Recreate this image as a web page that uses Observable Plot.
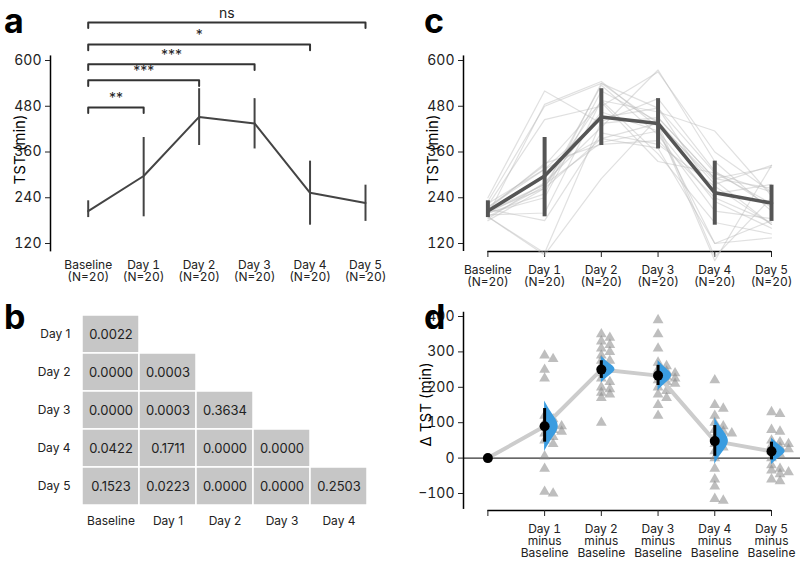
<!DOCTYPE html><html><head><meta charset="utf-8">
<script src="https://cdn.jsdelivr.net/npm/d3@7"></script>
<script src="https://cdn.jsdelivr.net/npm/@observablehq/plot@0.6"></script>
<style>
body{margin:0;background:#fff;font-family:Inter,"Noto Sans",sans-serif}
#c{position:relative;width:800px;height:573px;overflow:hidden}
#c svg{position:absolute;left:0;top:0;background:transparent!important}
.t{position:absolute;font-family:Inter,sans-serif;color:#000}
.L{font-weight:700;font-size:34px;line-height:1}
.ax{font-size:15px;transform:rotate(-90deg);transform-origin:center;white-space:nowrap}
</style></head><body><div id="c"></div>
<script>
const days = ["Baseline","Day 1","Day 2","Day 3","Day 4","Day 5"];
const meanTST = [205,297,452,435,253,226];
const loTST = [188,190,377,368,168,178];
const hiTST = [232,398,526,500,336,273];
const baseline = [195,210,185,230,200,215,190,205,220,180,200,210,195,240,205,190,215,200,225,190];
const d1 = [290,-30,95,250,75,110,-100,60,225,85,40,120,5,280,70,-95,100,50,90,80];
const d2 = [350,200,240,310,185,275,100,330,260,215,320,170,300,195,290,250,180,340,225,275];
const d3v = [230,170,390,245,215,120,260,200,350,190,240,180,270,210,150,310,220,235,250,225];
const d4 = [-120,60,150,20,-80,90,100,0,140,-60,75,30,220,50,-30,120,70,-115,80,40];
const d5 = [130,-40,20,45,-65,10,75,-20,35,0,125,-35,50,80,-60,25,-45,40,30,-30];
const deltaMean = [0,90,250,233,48,19];
const deltaLo = [0,45,225,205,5,-5];
const deltaHi = [0,140,275,262,92,45];
const brackets = [{to:1,y:477,lab:"**"},{to:2,y:548,lab:"***"},{to:3,y:590,lab:"***"},{to:4,y:642,lab:"*"},{to:5,y:700,lab:"ns"}];
const rowsB = ["Day 1","Day 2","Day 3","Day 4","Day 5"];
const colsB = ["Baseline","Day 1","Day 2","Day 3","Day 4"];
const pvals = [["0.0022"],["0.0000","0.0003"],["0.0000","0.0003","0.3634"],["0.0422","0.1711","0.0000","0.0000"],["0.1523","0.0223","0.0000","0.0000","0.2503"]];

const C = document.getElementById("c");
const W=800,H=573, font="Inter, sans-serif";
const base = {width:W,height:H,style:{fontFamily:font,fontSize:"13px",background:"transparent",color:"#222"}};
const idx = [0,1,2,3,4,5];
const deltas = [d1,d2,d3v,d4,d5];

// Panel a
const aX = {domain:[-0.68,5],range:[50,365]}, tY={domain:[120,600],range:[243,60]};
const br=[];brackets.forEach((b,i)=>{br.push({x:0,y:b.y-15,g:i},{x:0,y:b.y,g:i},{x:b.to,y:b.y,g:i},{x:b.to,y:b.y-15,g:i});});
C.append(Plot.plot({...base,marginLeft:50,marginBottom:H-250,x:aX,y:tY,marks:[
  Plot.ruleX([-0.68],{y1:98,y2:612,stroke:"#000",strokeWidth:1.5}),
  Plot.axisY({ticks:[120,240,360,480,600],tickSize:5,label:null,fontSize:14}),
  Plot.axisX({ticks:idx,tickFormat:i=>days[i]+"\n(N=20)",tickSize:0,tickPadding:10,label:null,fontSize:12}),
  Plot.ruleX(idx,{x:d=>d,y1:i=>loTST[i],y2:i=>hiTST[i],stroke:"#444",strokeWidth:2}),
  Plot.line(idx,{x:d=>d,y:i=>meanTST[i],stroke:"#444",strokeWidth:2}),
  Plot.line(br,{x:"x",y:"y",z:"g",stroke:"#333",strokeWidth:2}),
  Plot.text(brackets,{x:b=>b.to/2,y:"y",text:"lab",dy:-9,fontSize:14})
]}));

// Panel c
const cX={domain:[-0.43,5],range:[463,771]};
const indiv=[];baseline.forEach((b,s)=>{indiv.push({s,x:0,y:b});deltas.forEach((d,k)=>indiv.push({s,x:k+1,y:b+d[s]}));});
C.append(Plot.plot({...base,marginLeft:463,marginBottom:H-251,x:cX,y:tY,marks:[
  Plot.ruleX([-0.43],{y1:99,y2:612,stroke:"#000",strokeWidth:1.5}),
  Plot.ruleY([99],{x1:0,x2:5,stroke:"#000",strokeWidth:1.5}),
  Plot.axisY({ticks:[120,240,360,480,600],tickSize:5,label:null,fontSize:14}),
  Plot.axisX({ticks:idx,tickFormat:i=>days[i]+"\n(N=20)",tickSize:6,tickPadding:8,label:null,fontSize:12}),
  Plot.line(indiv,{x:"x",y:"y",z:"s",stroke:"#bbb",strokeOpacity:0.45,strokeWidth:1.2}),
  Plot.ruleX(idx,{x:d=>d,y1:i=>loTST[i],y2:i=>hiTST[i],stroke:"#555",strokeWidth:4}),
  Plot.line(idx,{x:d=>d,y:i=>meanTST[i],stroke:"#555",strokeWidth:3.5})
]}));

// Panel b
const cells=[];pvals.forEach((r,i)=>r.forEach((v,j)=>cells.push({r:rowsB[i],c:colsB[j],v})));
C.append(Plot.plot({...base,marginLeft:80,marginBottom:H-507,
  x:{type:"band",domain:colsB,range:[80,369],padding:0},y:{type:"band",domain:rowsB,range:[313,507],padding:0},marks:[
  Plot.cell(cells,{x:"c",y:"r",fill:"#c6c6c6",stroke:"#fff",strokeWidth:1.5}),
  Plot.text(cells,{x:"c",y:"r",text:"v",fontSize:13,fill:"#222"}),
  Plot.axisX({tickSize:0,tickPadding:9,label:null,fontSize:12}),
  Plot.axisY({tickSize:0,tickPadding:10,label:null,fontSize:12})
]}));

// Panel d
const dY={domain:[-100,400],range:[493,316]};
const pts=[];deltas.forEach((arr,k)=>{const placed=[];[...arr].sort((a,b)=>b-a).forEach(v=>{let o=0;while(placed.some(p=>p.o===o&&Math.abs(p.v-v)<14))o+=0.15;placed.push({o,v});pts.push({x:k+1+o,y:v});});});
const kk=[-1,-0.6,-0.3,0,0.3,0.6,1], ww=[0,0.1,0.2,0.26,0.2,0.1,0];
const vio=[];for(let i=1;i<6;i++){const s=(deltaHi[i]-deltaLo[i])*0.75;kk.forEach((k,j)=>vio.push({g:i,y:deltaMean[i]+k*s,x1:i,x2:i+ww[j]}));}
C.append(Plot.plot({...base,marginLeft:463,marginBottom:H-510,x:cX,y:dY,marks:[
  Plot.ruleX([-0.43],{y1:-145,y2:412,stroke:"#000",strokeWidth:1.5}),
  Plot.ruleY([-148],{x1:0,x2:5,stroke:"#000",strokeWidth:1.5}),
  Plot.ruleY([0],{x1:-0.43,x2:5.6,stroke:"#000",strokeWidth:1}),
  Plot.axisY({ticks:[-100,0,100,200,300,400],tickFormat:d=>d<0?"\u2212"+(-d):d,tickSize:5,label:null,fontSize:14}),
  Plot.axisX({ticks:idx,tickFormat:i=>i?days[i]+"\nminus\nBaseline":"",tickSize:6,tickPadding:8,label:null,fontSize:12}),
  Plot.dot(pts,{x:"x",y:"y",symbol:"triangle",r:4,fill:"#888",fillOpacity:0.55}),
  Plot.line(idx,{x:d=>d,y:i=>deltaMean[i],stroke:"#ccc",strokeWidth:4}),
  Plot.areaX(vio,{x1:"x1",x2:"x2",y:"y",z:"g",fill:"#3a9ce0",curve:"basis"}),
  Plot.ruleX(idx.slice(1),{x:d=>d,y1:i=>deltaLo[i],y2:i=>deltaHi[i],stroke:"#000",strokeWidth:3}),
  Plot.dot(idx,{x:d=>d,y:i=>deltaMean[i],r:5,fill:"#000"})
]}));

const add=(h,cls,css)=>{const d=document.createElement("div");d.className="t "+cls;d.textContent=h;Object.assign(d.style,css);C.append(d);};
add("a","L",{left:"4px",top:"4px"});add("b","L",{left:"4px",top:"300px"});
add("c","L",{left:"424px",top:"4px"});add("d","L",{left:"424px",top:"300px"});
add("TST (min)","ax",{left:"-15px",top:"140px"});
add("TST (min)","ax",{left:"398px",top:"140px"});
add("\u0394 TST (min)","ax",{left:"383px",top:"395px"});
</script></body></html>
